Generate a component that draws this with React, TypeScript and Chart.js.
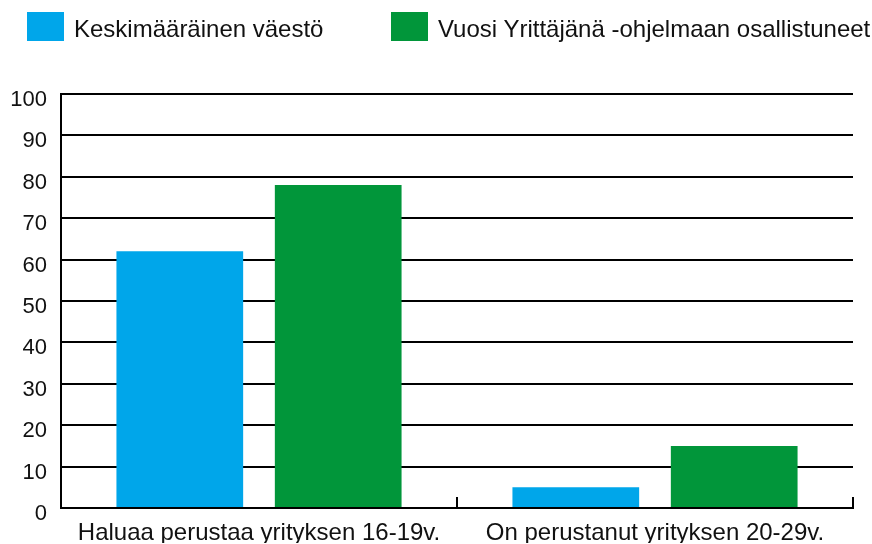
import React, { useEffect, useRef } from "react";
import { Chart, registerables } from "chart.js";

Chart.register(...registerables);

const categories = ["Haluaa perustaa yrityksen 16-19v.", "On perustanut yrityksen 20-29v."];
const seriesNames = ["Keskimääräinen väestö", "Vuosi Yrittäjänä -ohjelmaan osallistuneet"];
const averagePopulation = [62, 5];
const programParticipants = [78, 15];
const seriesColors = ["#00A6EA", "#01963A"];
const yMin = 0;
const yMax = 100;
const yStep = 10;

const FONT = '"Liberation Sans", Arial, Helvetica, sans-serif';

const categoryTicks = {
  id: "categoryTicks",
  afterDraw(chart: any) {
    const x = chart.scales.x;
    const area = chart.chartArea;
    const ctx = chart.ctx;
    ctx.save();
    ctx.strokeStyle = "#000";
    ctx.lineWidth = 2;
    for (let i = 1; i <= categories.length; i++) {
      const px = Math.round(x.getPixelForValue(i - 0.5));
      ctx.beginPath();
      ctx.moveTo(px, area.bottom);
      ctx.lineTo(px, area.bottom - 11);
      ctx.stroke();
    }
    ctx.restore();
  },
};

export default function App() {
  const canvasRef = useRef<HTMLCanvasElement | null>(null);

  useEffect(() => {
    if (!canvasRef.current) return;
    const chart = new Chart(canvasRef.current, {
      type: "bar",
      data: {
        labels: categories,
        datasets: [
          { label: seriesNames[0], data: averagePopulation, backgroundColor: seriesColors[0] },
          { label: seriesNames[1], data: programParticipants, backgroundColor: seriesColors[1] },
        ],
      },
      options: {
        animation: false,
        responsive: false,
        maintainAspectRatio: false,
        layout: { padding: { top: 94, left: 10, right: 19, bottom: 1 } },
        plugins: { legend: { display: false }, tooltip: { enabled: false } },
        datasets: { bar: { categoryPercentage: 0.8, barPercentage: 0.8 } },
        scales: {
          x: {
            grid: { display: false, drawTicks: false },
            border: { display: true, color: "#000", width: 2 },
            ticks: {
              color: "#111",
              padding: 13,
              font: { family: FONT, size: 24, lineHeight: 1 },
              maxRotation: 0,
              autoSkip: false,
            },
            afterFit(scale: any) {
              scale.height = 35;
            },
          },
          y: {
            min: yMin,
            max: yMax,
            grid: { color: "#000", lineWidth: 2, drawTicks: false },
            border: { display: true, color: "#000", width: 2 },
            ticks: {
              stepSize: yStep,
              color: "#111",
              padding: 14,
              labelOffset: 6,
              font: { family: FONT, size: 22 },
            },
            afterFit(scale: any) {
              scale.width = 51;
            },
          },
        },
      },
      plugins: [categoryTicks],
    });
    return () => chart.destroy();
  }, []);

  const legendText: React.CSSProperties = {
    position: "absolute",
    top: 17,
    lineHeight: "24px",
    fontSize: 24,
    fontFamily: FONT,
    color: "#111",
    whiteSpace: "nowrap",
  };
  const box = (left: number, color: string): React.CSSProperties => ({
    position: "absolute",
    left,
    top: 12,
    width: 37,
    height: 29,
    background: color,
  });

  return (
    <div style={{ position: "fixed", left: 0, top: 0, width: 872, height: 544, background: "#fff" }}>
      <canvas ref={canvasRef} width={872} height={544} style={{ position: "absolute", left: 0, top: 0 }} />
      <div style={box(27, seriesColors[0])} />
      <span style={{ ...legendText, left: 74 }}>{seriesNames[0]}</span>
      <div style={box(391, seriesColors[1])} />
      <span style={{ ...legendText, left: 438 }}>{seriesNames[1]}</span>
    </div>
  );
}
